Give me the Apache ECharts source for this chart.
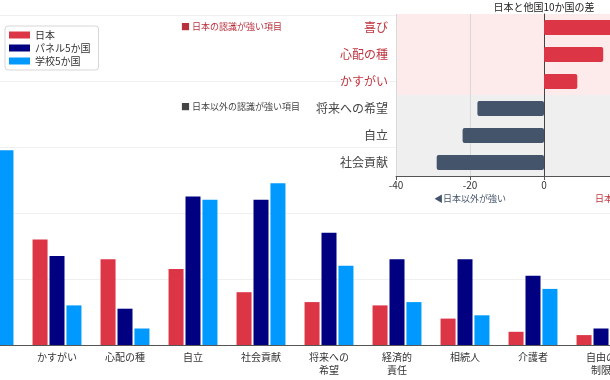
<!DOCTYPE html>
<html><head><meta charset="utf-8">
<script src="https://cdn.jsdelivr.net/npm/echarts@6/dist/echarts.min.js"></script>
<style>html,body{margin:0;padding:0;background:#fff;overflow:hidden;width:610px;height:380px}#c{width:737px;height:380px;margin-left:-45px}</style>
</head><body><div id="c"></div>
<script>
var categories = ['喜び','かすがい','心配の種','自立','社会貢献','将来への\n希望','経済的\n責任','相続人','介護者','自由の\n制限'];
var japan  = [38, 16, 13, 11.5, 8, 6.5, 6, 4, 2, 1.5];
var panel  = [22, 13.5, 5.5, 22.5, 22, 17, 13, 13, 10.5, 2.5];
var school = [29.5, 6, 2.5, 22, 24.5, 12, 6.5, 4.5, 8.5, 1];
var seriesNames = ['日本','パネル5か国','学校5か国'];

var diffCats = ['喜び','心配の種','かすがい','将来への希望','自立','社会貢献'];
var diffVals = [25, 16, 9, -18, -22, -29];
var diffTicks = [-40, -20, 0, 20, 40];

var FONT = 'Noto Sans CJK JP';
var RED = '#dc3545', NAVY = '#000080', BLUE = '#0099ff', SLATE = '#44546a';
var OX = 45; // container offset (container starts 45px left of the window)

var chart = echarts.init(document.getElementById('c'), null, {renderer:'canvas'});
chart.setOption({
  animation: false,
  textStyle: {fontFamily: FONT},
  legend: {
    data: seriesNames, orient: 'vertical', left: 5 + OX, top: 26,
    itemWidth: 21, itemHeight: 7, itemGap: 3,
    padding: [4, 8, 4, 4], backgroundColor: '#fff',
    borderColor: '#d6d6d6', borderWidth: 1, borderRadius: 3,
    textStyle: {fontSize: 10, color: '#333', fontFamily: FONT},
    icon: 'rect'
  },
  grid: [
    {left: 0, width: 680, top: 15, bottom: 35, outerBoundsMode: 'none', containLabel: false},
    {left: 396 + OX, width: 296, top: 14, bottom: 204, outerBoundsMode: 'none', containLabel: false}
  ],
  xAxis: [
    {gridIndex: 0, type: 'category', data: categories,
     axisLine: {lineStyle: {color: '#555'}}, axisTick: {show: false},
     axisLabel: {fontSize: 10, color: '#333', margin: 6, lineHeight: 13, interval: 0, fontFamily: FONT}},
    {gridIndex: 1, type: 'value', min: diffTicks[0], max: diffTicks[diffTicks.length-1], interval: 20,
     axisLine: {show: true, lineStyle: {color: '#555'}},
     axisTick: {show: true, length: 4, lineStyle: {color: '#555'}},
     axisLabel: {fontSize: 10, color: '#333', margin: 4, fontFamily: FONT},
     splitLine: {show: true, lineStyle: {color: '#d9d9d9', width: 1}}}
  ],
  yAxis: [
    {gridIndex: 0, type: 'value', min: 0, max: 50, interval: 10,
     axisLabel: {show: false}, axisLine: {show: false}, axisTick: {show: false},
     splitLine: {lineStyle: {color: '#f0f0f0'}}},
    {gridIndex: 1, type: 'category', data: diffCats, inverse: true,
     axisLine: {show: true, onZero: true, lineStyle: {color: '#444'}},
     axisTick: {show: false},
     axisLabel: {fontSize: 12, margin: 8, fontFamily: FONT,
       color: function (v, i) { return diffVals[diffCats.indexOf(v)] > 0 ? '#c0343f' : '#444'; }},
     splitArea: {show: true, areaStyle: {color: ['#fdeaea','#fdeaea','#fdeaea','#efefef','#efefef','#efefef']}}}
  ],
  series: [
    {name: seriesNames[0], type: 'bar', xAxisIndex: 0, yAxisIndex: 0, data: japan,
     barWidth: 15, barGap: '13%', itemStyle: {color: RED}},
    {name: seriesNames[1], type: 'bar', xAxisIndex: 0, yAxisIndex: 0, data: panel,
     barWidth: 15, barGap: '13%', itemStyle: {color: NAVY}},
    {name: seriesNames[2], type: 'bar', xAxisIndex: 0, yAxisIndex: 0, data: school,
     barWidth: 15, barGap: '13%', itemStyle: {color: BLUE}},
    {name: 'diff', type: 'bar', xAxisIndex: 1, yAxisIndex: 1, data: diffVals,
     barWidth: 15, z: 3,
     itemStyle: {borderRadius: 2, color: function (p) { return p.value > 0 ? RED : SLATE; }}}
  ],
  graphic: [
    {type: 'text', left: 181 + OX, top: 22, z: 10,
     style: {text: '■ 日本の認識が強い項目', fill: '#b8303c', font: '9px "Noto Sans CJK JP"'}},
    {type: 'text', left: 181 + OX, top: 102, z: 10,
     style: {text: '■ 日本以外の認識が強い項目', fill: '#444', font: '9px "Noto Sans CJK JP"'}},
    {type: 'text', x: 544 + OX, y: 7, z: 10,
     style: {text: '日本と他国10か国の差', fill: '#222', font: '10px "Noto Sans CJK JP"', align: 'center', verticalAlign: 'middle'}},
    {type: 'text', x: 470 + OX, y: 199, z: 10,
     style: {text: '◀日本以外が強い', fill: SLATE, font: '9px "Noto Sans CJK JP"', align: 'center', verticalAlign: 'middle'}},
    {type: 'text', x: 622 + OX, y: 199, z: 10,
     style: {text: '日本が強い▶', fill: '#c0343f', font: '9px "Noto Sans CJK JP"', align: 'center', verticalAlign: 'middle'}}
  ]
});
</script></body></html>
